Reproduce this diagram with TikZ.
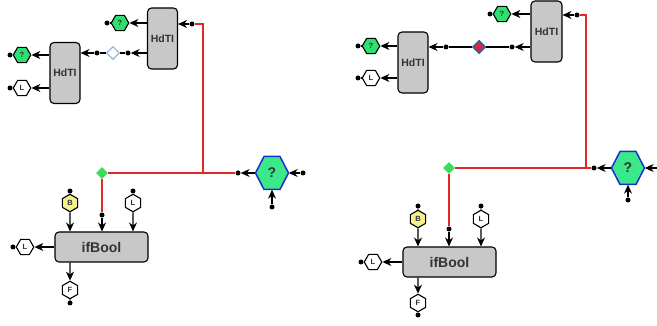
\documentclass[tikz,border=0pt]{standalone}
\usepackage{fontspec}
\setmainfont{Liberation Sans}
\usetikzlibrary{arrows.meta,shapes.geometric,calc}
\definecolor{boxgray}{HTML}{C8C8C8}
\definecolor{hexgreen}{HTML}{2EE070}
\definecolor{bigfill}{HTML}{3BE88A}
\definecolor{bigblue}{HTML}{1A2FD0}
\definecolor{wirered}{HTML}{E02828}
\definecolor{hexyellow}{HTML}{F4F08C}
\definecolor{diagreen}{HTML}{3CDC5A}
\definecolor{paleblue}{HTML}{9DB6DA}
\definecolor{dkblue}{HTML}{2A5FB8}
\definecolor{txt}{HTML}{333333}
\newcommand{\bigHexAt}[3]{%
  \draw[bigblue, fill=bigfill, line width=1.5pt, line join=round]
    (#2,#3) ++(-16.5,0) -- ++(8.5,-16.5) -- ++(16,0) -- ++(8.5,16.5)
    -- ++(-8.5,16.5) -- ++(-16,0) -- cycle;
  \node[bighexnode] (#1) at (#2,#3) {?};}
\begin{document}
\begin{tikzpicture}[x=1pt,y=-1pt,
  block/.style={draw=black, line width=1.1pt, fill=boxgray, rounded corners=4pt,
    inner sep=0pt, text=txt, font=\bfseries\fontsize{10.5}{12}\selectfont},
  tallblock/.style={block, minimum width=30pt, minimum height=61pt},
  wideblock/.style={block, minimum width=93pt, minimum height=30pt,
    font=\bfseries\fontsize{14}{16}\selectfont},
  hexh/.style={regular polygon, regular polygon sides=6, draw=black, line width=1.1pt,
    fill=white, minimum size=17.5pt, inner sep=0pt, text=txt,
    font=\bfseries\fontsize{7.5}{8}\selectfont},
  hexv/.style={hexh, shape border rotate=30},
  greenhex/.style={hexh, fill=hexgreen},
  yellowhex/.style={hexv, fill=hexyellow},
  bighexnode/.style={rectangle, minimum width=33pt, minimum height=33pt, inner sep=0pt,
    text=txt, font=\bfseries\fontsize{14}{16}\selectfont},
  pdot/.style={circle, fill=black, inner sep=0pt, minimum size=5pt},
  jdia/.style={diamond, inner sep=0pt, minimum size=11pt},
  greendia/.style={jdia, fill=diagreen, minimum size=12pt},
  wire/.style={draw=black, line width=1.2pt},
  arr/.style={wire, -{Stealth[length=9pt,width=8pt]}},
  redwire/.style={draw=wirered, line width=1.5pt},
]
\useasboundingbox (0,0) rectangle (657,326);

% ================= LEFT PANEL =================
% top HdTI
\node[tallblock] (T1) at (162.5,38.5) {HdTI};
\node[greenhex] (hq1) at (120,23) {?};
\node[pdot] (dq1) at (107,23) {};
\draw[wire] (dq1) -- (hq1.west);
\draw[arr] (T1.west |- hq1) -- (hq1.east);
\node[pdot] (d1) at (192,24) {};
\draw[arr] (d1) -- (T1.east |- d1);
\node[pdot] (d2) at (128,53) {};
\node[jdia, draw=paleblue, fill=white, line width=1.2pt, minimum size=13pt] (m1) at (113,53) {};
\node[pdot] (d3) at (97,53) {};
\draw[arr] (T1.west |- d2) -- (d2);
\draw[wire] (d2) -- (m1) -- (d3);

% second HdTI
\node[tallblock] (T2) at (65,73) {HdTI};
\draw[arr] (d3) -- (T2.east |- d3);
\node[greenhex] (hq2) at (22,55) {?};
\node[pdot] (dq2) at (10,55) {};
\draw[wire] (dq2) -- (hq2.west);
\draw[arr] (T2.west |- hq2) -- (hq2.east);
\node[hexh] (hl1) at (22,88) {L};
\node[pdot] (dl1) at (10,88) {};
\draw[wire] (dl1) -- (hl1.west);
\draw[arr] (T2.west |- hl1) -- (hl1.east);

% big hex
\bigHexAt{bhA}{272}{173}
\node[pdot] (bdL) at (238,173) {};
\node[pdot] (bdR) at (303,173) {};
\node[pdot] (bdB) at (272,207) {};
\draw[arr] (bhA.west) -- (bdL);
\draw[arr] (bdR) -- (bhA.east);
\draw[arr] (bdB) -- (bhA.south);

% ifBool
\node[wideblock] (IB1) at (101.5,247) {ifBool};
\node[greendia] (gd1) at (102,173) {};
\node[pdot] (d4) at (102,215) {};
\coordinate (jL) at (203,173);
\draw[redwire] (bdL) -- (gd1);
\draw[redwire] (jL) |- (d1);
\draw[redwire] (gd1) -- (d4);
\draw[arr] (d4) -- (IB1.north -| d4);
\node[yellowhex] (hb1) at (70,203) {B};
\node[pdot] (db1) at (70,191) {};
\draw[wire] (db1) -- (hb1.north);
\draw[arr] (hb1.south) -- (IB1.north -| hb1);
\node[hexv] (hl2) at (133,203) {L};
\node[pdot] (dl2) at (133,191) {};
\draw[wire] (dl2) -- (hl2.north);
\draw[arr] (hl2.south) -- (IB1.north -| hl2);
\node[hexh] (hl3) at (25,247) {L};
\node[pdot] (dl3) at (13,247) {};
\draw[wire] (dl3) -- (hl3.west);
\draw[arr] (IB1.west) -- (hl3.east);
\node[hexv] (hf1) at (70,290) {F};
\node[pdot] (df1) at (70,303) {};
\draw[wire] (df1) -- (hf1.south);
\draw[arr] (IB1.south -| hf1) -- (hf1.north);

% ================= RIGHT PANEL =================
\node[tallblock, minimum width=31pt] (T3) at (546.5,31.5) {HdTI};
\node[greenhex] (hq3) at (502,14) {?};
\node[pdot] (dq3) at (490,14) {};
\draw[wire] (dq3) -- (hq3.west);
\draw[arr] (T3.west |- hq3) -- (hq3.east);
\node[pdot] (d5) at (577,15) {};
\draw[arr] (d5) -- (T3.east |- d5);
\node[pdot] (d6) at (512,47) {};
\node[jdia, draw=dkblue, fill=wirered, line width=1.5pt, minimum size=13pt] (m2) at (479,47) {};
\node[pdot] (d7) at (446,47) {};
\draw[arr] (T3.west |- d6) -- (d6);
\draw[wire] (d6) -- (m2) -- (d7);

\node[tallblock] (T4) at (413,62.5) {HdTI};
\draw[arr] (d7) -- (T4.east |- d7);
\node[greenhex] (hq4) at (371,46) {?};
\node[pdot] (dq4) at (358,46) {};
\draw[wire] (dq4) -- (hq4.west);
\draw[arr] (T4.west |- hq4) -- (hq4.east);
\node[hexh] (hl4) at (371,78) {L};
\node[pdot] (dl4) at (358,78) {};
\draw[wire] (dl4) -- (hl4.west);
\draw[arr] (T4.west |- hl4) -- (hl4.east);

\bigHexAt{bhB}{628}{168}
\node[pdot] (bdL2) at (594,168) {};
\node[pdot] (bdR2) at (661,168) {};
\node[pdot] (bdB2) at (628,200) {};
\draw[arr] (bhB.west) -- (bdL2);
\draw[arr] (bdR2) -- (bhB.east);
\draw[arr] (bdB2) -- (bhB.south);

\node[wideblock] (IB2) at (449.5,262) {ifBool};
\node[greendia] (gd2) at (449,168) {};
\node[pdot] (d8) at (449,229) {};
\coordinate (jR) at (586,168);
\draw[redwire] (bdL2) -- (gd2);
\draw[redwire] (jR) |- (d5);
\draw[redwire] (gd2) -- (d8);
\draw[arr] (d8) -- (IB2.north -| d8);
\node[yellowhex] (hb2) at (418,219) {B};
\node[pdot] (db2) at (418,206) {};
\draw[wire] (db2) -- (hb2.north);
\draw[arr] (hb2.south) -- (IB2.north -| hb2);
\node[hexv] (hl5) at (481,219) {L};
\node[pdot] (dl5) at (481,206) {};
\draw[wire] (dl5) -- (hl5.north);
\draw[arr] (hl5.south) -- (IB2.north -| hl5);
\node[hexh] (hl6) at (373,262) {L};
\node[pdot] (dl6) at (361,262) {};
\draw[wire] (dl6) -- (hl6.west);
\draw[arr] (IB2.west) -- (hl6.east);
\node[hexv] (hf2) at (418,303) {F};
\node[pdot] (df2) at (418,315) {};
\draw[wire] (df2) -- (hf2.south);
\draw[arr] (IB2.south -| hf2) -- (hf2.north);
\end{tikzpicture}
\end{document}
